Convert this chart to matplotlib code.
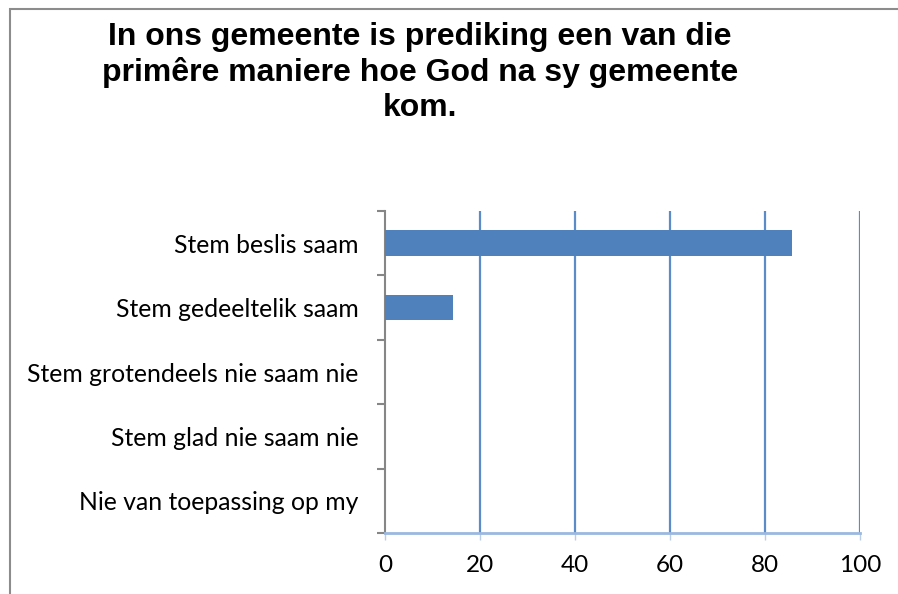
import matplotlib
matplotlib.use("Agg")
import matplotlib.pyplot as plt
from matplotlib.patches import Rectangle

categories = ["Stem beslis saam", "Stem gedeeltelik saam", "Stem grotendeels nie saam nie",
              "Stem glad nie saam nie", "Nie van toepassing op my"]
values = [85.7, 14.3, 0, 0, 0]
xticks = [0, 20, 40, 60, 80, 100]
title = "In ons gemeente is prediking een van die\nprimêre maniere hoe God na sy gemeente\nkom."

W, H = 898, 594
fig = plt.figure(figsize=(W / 100, H / 100), dpi=100)
fig.patch.set_facecolor("white")

# outer chart border (cropped on right and bottom)
fig.add_artist(Rectangle((9.5 / W, -0.1), 1.2, 1 - 9.5 / H + 0.1, transform=fig.transFigure,
                         fill=False, edgecolor="#8c8c8c", linewidth=1.5))

ax = fig.add_axes([385 / W, 1 - 533 / H, (860 - 385) / W, (533 - 211) / H])
ypos = list(range(len(categories)))
ax.barh(ypos, values, height=0.4, color="#4F81BD", edgecolor="none", zorder=3)
ax.set_xlim(0, 100)
ax.set_ylim(len(categories) - 0.5, -0.5)

ax.set_xticks(xticks)
ax.set_xticklabels([str(v) for v in xticks], fontsize=17.5, family="Lato")
ax.tick_params(axis="x", length=5, color="#b9cde5", width=1.0, pad=11)
for x in xticks[1:]:
    ax.axvline(x, color="#5B8BC8", linewidth=1.6, zorder=1)

ax.set_yticks(ypos)
ax.set_yticklabels(categories, fontsize=17.8, family="Lato")
ax.tick_params(axis="y", which="major", length=0, pad=19)
ax.set_yticks([i - 0.5 for i in range(len(categories) + 1)], minor=True)
ax.tick_params(axis="y", which="minor", length=6, color="#868686", width=1.5)

for s in ["top", "right"]:
    ax.spines[s].set_visible(False)
ax.spines["left"].set_color("#868686")
ax.spines["left"].set_linewidth(1.5)
ax.spines["bottom"].set_color("#9ab8e0")
ax.spines["bottom"].set_linewidth(2)

fig.text(420 / W, 1 - 22 / H, title, ha="center", va="top", fontsize=23, fontweight="bold",
         family="Liberation Sans", linespacing=1.22)

fig.savefig("out.png", dpi=100)
